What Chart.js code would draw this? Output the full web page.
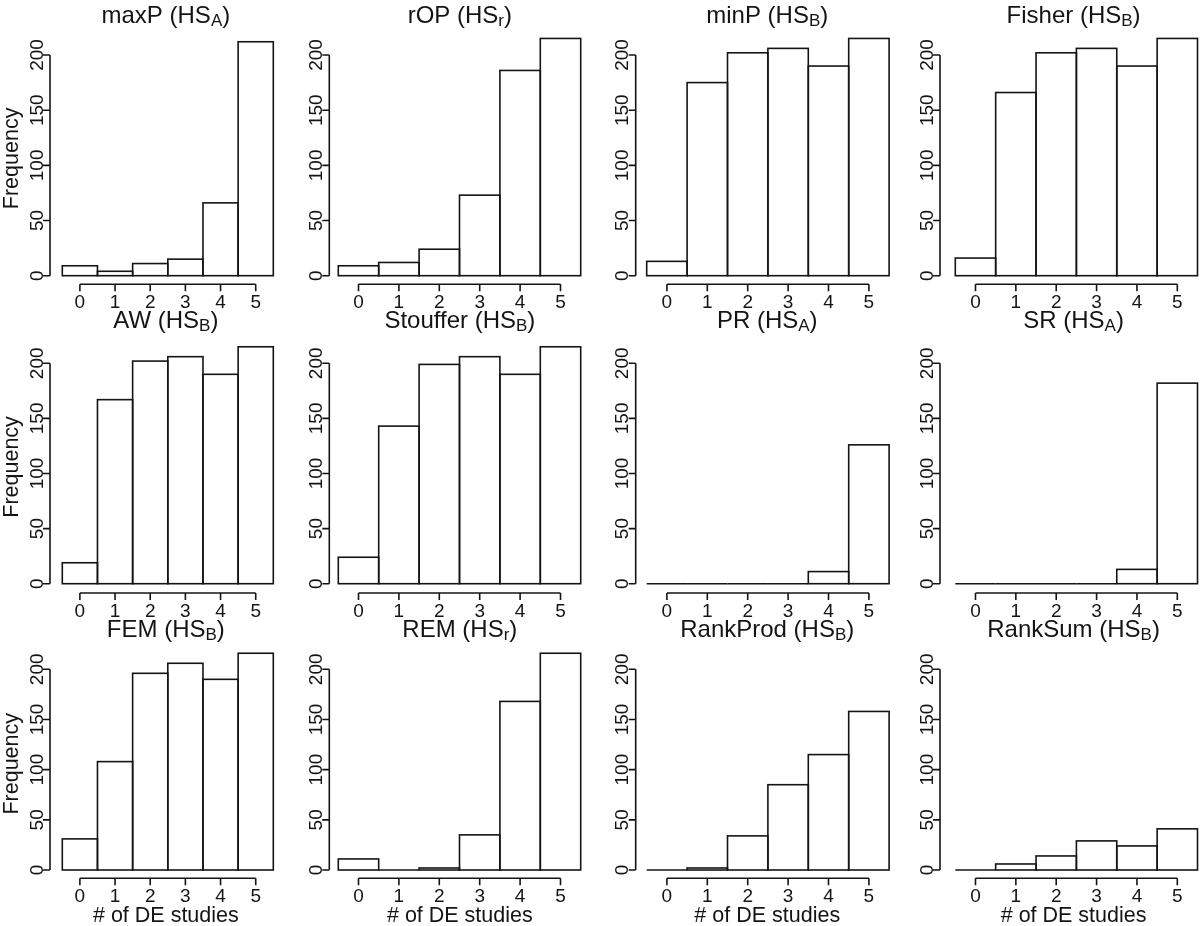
<!DOCTYPE html>
<html><head><meta charset="utf-8">
<script src="https://cdn.jsdelivr.net/npm/chart.js@4.4.0/dist/chart.umd.min.js"></script>
<style>
html,body{margin:0;padding:0;background:#fff;overflow:hidden;width:1200px;height:926px;position:relative}
canvas{position:absolute}
</style></head><body>
<script>
// ---------- data ----------
const categories = [0, 1, 2, 3, 4, 5];
const xTickLabels = ['0', '1', '2', '3', '4', '5'];
const yTickValues = [0, 50, 100, 150, 200];
const titleNames = ['maxP', 'rOP', 'minP', 'Fisher', 'AW', 'Stouffer', 'PR', 'SR', 'FEM', 'REM', 'RankProd', 'RankSum'];
const titleSubs  = ['A', 'r', 'B', 'B', 'B', 'B', 'A', 'A', 'B', 'r', 'B', 'B'];
const maxP     = [9, 4, 11, 15, 66, 212];
const rOP      = [9, 12, 24, 73, 186, 215];
const minP     = [13, 175, 202, 206, 190, 215];
const Fisher   = [16, 166, 202, 206, 190, 215];
const AW       = [19, 167, 202, 206, 190, 215];
const Stouffer = [24, 143, 199, 206, 190, 215];
const PR       = [0, 0, 0, 0, 11, 126];
const SR       = [0, 0, 0, 0, 13, 182];
const FEM      = [31, 108, 196, 206, 190, 216];
const REM      = [11, 0, 2, 35, 168, 216];
const RankProd = [0, 2, 34, 85, 115, 158];
const RankSum  = [0, 6, 14, 29, 24, 41];
const yAxisTitle = 'Frequency';
const xAxisTitle = '# of DE studies';
const seriesList = [maxP, rOP, minP, Fisher, AW, Stouffer, PR, SR, FEM, REM, RankProd, RankSum];

// ---------- layout (pixels) ----------
const LAYOUT = {
  colAxisX:    [50, 329.3, 635.7, 940],
  colBarLeft:  [62.3, 338.3, 646.7, 955.3],
  colBarRight: [273.3, 580.7, 889.1, 1197.5],
  rowZeroY:    [275.7, 583.7, 870],
  row200Y:     [55, 363.3, 669.3],
  rowAxisY:    [284.3, 593, 878.3],
  rowTitleBase:[23.3, 328.3, 636.7],
  yTopValue: 224,
  font: '"Liberation Sans", Arial, Helvetica, sans-serif',
  ink: '#141414'
};

const rstyle = {
  id: 'rstyle',
  afterDatasetsDraw(chart, args, o) {
    const ctx = chart.ctx;
    const xs = chart.scales.x, ys = chart.scales.y;
    const ca = chart.chartArea;
    ctx.save();
    ctx.strokeStyle = LAYOUT.ink;
    ctx.fillStyle = LAYOUT.ink;
    ctx.lineWidth = 1.6;
    // bar outlines from the library's bar elements
    const meta = chart.getDatasetMeta(0);
    meta.data.forEach(el => {
      const p = el.getProps(['x', 'y', 'base', 'width'], true);
      ctx.strokeRect(p.x - p.width / 2, Math.min(p.y, p.base), p.width, Math.abs(p.base - p.y));
    });
    // y axis
    const yA = ca.left;
    const yT = yTickValues.map(v => ys.getPixelForValue(v));
    ctx.beginPath();
    ctx.moveTo(yA, yT[0]); ctx.lineTo(yA, yT[yT.length - 1]);
    yT.forEach(py => { ctx.moveTo(yA, py); ctx.lineTo(yA - 7, py); });
    ctx.stroke();
    ctx.font = '19px ' + LAYOUT.font;
    ctx.textAlign = 'center';
    ctx.textBaseline = 'alphabetic';
    yTickValues.forEach((v, i) => {
      ctx.save();
      ctx.translate(yA - 7.5, yT[i]);
      ctx.rotate(-Math.PI / 2);
      ctx.fillText(String(v), 0, 0);
      ctx.restore();
    });
    // x axis
    const xA = ca.bottom;
    const xT = categories.map(v => xs.getPixelForValue(v));
    ctx.beginPath();
    ctx.moveTo(xT[0], xA); ctx.lineTo(xT[xT.length - 1], xA);
    xT.forEach(px => { ctx.moveTo(px, xA); ctx.lineTo(px, xA + 7); });
    ctx.stroke();
    xTickLabels.forEach((t, i) => ctx.fillText(t, xT[i], xA + 23.5));
    // title with subscript
    const cx = (ca.left + ca.right) / 2;
    ctx.font = '24px ' + LAYOUT.font;
    const mainTxt = o.name + ' (HS';
    const wMain = ctx.measureText(mainTxt).width;
    ctx.font = '17px ' + LAYOUT.font;
    const wSub = ctx.measureText(o.sub).width;
    ctx.font = '24px ' + LAYOUT.font;
    const wClose = ctx.measureText(')').width;
    let x0 = cx - (wMain + wSub + wClose) / 2;
    const tb = o.titleBase - chart.canvas.offsetTop;
    ctx.textAlign = 'left';
    ctx.fillText(mainTxt, x0, tb);
    ctx.font = '17px ' + LAYOUT.font;
    ctx.fillText(o.sub, x0 + wMain, tb + 3);
    ctx.font = '24px ' + LAYOUT.font;
    ctx.fillText(')', x0 + wMain + wSub, tb);
    // axis titles
    ctx.font = '21.5px ' + LAYOUT.font;
    ctx.textAlign = 'center';
    if (o.showY) {
      ctx.save();
      ctx.translate(yA - 32, (ca.top + ca.bottom) / 2 + 2);
      ctx.rotate(-Math.PI / 2);
      ctx.fillText(yAxisTitle, 0, 0);
      ctx.restore();
    }
    if (o.showX) ctx.fillText(xAxisTitle, cx, xA + 43.5);
    ctx.restore();
  }
};

seriesList.forEach((vals, k) => {
  const r = Math.floor(k / 4), c = k % 4;
  const axisX = LAYOUT.colAxisX[c], bl = LAYOUT.colBarLeft[c], br = LAYOUT.colBarRight[c];
  const unit = (br - bl) / categories.length;
  const xMin = categories[0] - 0.5 - (bl - axisX) / unit;
  const plotRight = br + 0.24 * unit;
  const xMax = categories[categories.length - 1] + 0.5 + 0.24;
  const zeroY = LAYOUT.rowZeroY[r], axisY = LAYOUT.rowAxisY[r];
  const ppu = (zeroY - LAYOUT.row200Y[r]) / 200;
  const yMin = -(axisY - zeroY) / ppu;
  const yMax = LAYOUT.yTopValue;
  const plotTop = zeroY - yMax * ppu;

  const cl = Math.floor(axisX - 60), ct = Math.floor(plotTop - 50);
  const w = Math.ceil(plotRight + 10 - cl), h = Math.ceil(axisY + 50 - ct);
  const cv = document.createElement('canvas');
  cv.width = w; cv.height = h;
  cv.style.left = cl + 'px'; cv.style.top = ct + 'px';
  cv.style.width = w + 'px'; cv.style.height = h + 'px';
  document.body.appendChild(cv);

  new Chart(cv, {
    type: 'bar',
    data: {
      datasets: [{
        data: categories.map((x, i) => ({ x: x, y: vals[i] })),
        backgroundColor: '#ffffff',
        borderWidth: 0,
        barPercentage: 1,
        categoryPercentage: 1
      }]
    },
    options: {
      responsive: false,
      animation: false,
      devicePixelRatio: 1,
      events: [],
      layout: { padding: { left: axisX - cl, top: plotTop - ct, right: w - (plotRight - cl), bottom: h - (axisY - ct) } },
      plugins: {
        legend: { display: false },
        tooltip: { enabled: false },
        rstyle: { name: titleNames[k], sub: titleSubs[k], titleBase: LAYOUT.rowTitleBase[r], showY: c === 0, showX: r === 2 }
      },
      scales: {
        x: { type: 'linear', display: false, min: xMin, max: xMax, offset: false,
             afterBuildTicks: a => { a.ticks = categories.map(v => ({ value: v })); } },
        y: { type: 'linear', display: false, min: yMin, max: yMax,
             afterBuildTicks: a => { a.ticks = yTickValues.map(v => ({ value: v })); } }
      }
    },
    plugins: [rstyle]
  });
});
</script>
</body></html>
